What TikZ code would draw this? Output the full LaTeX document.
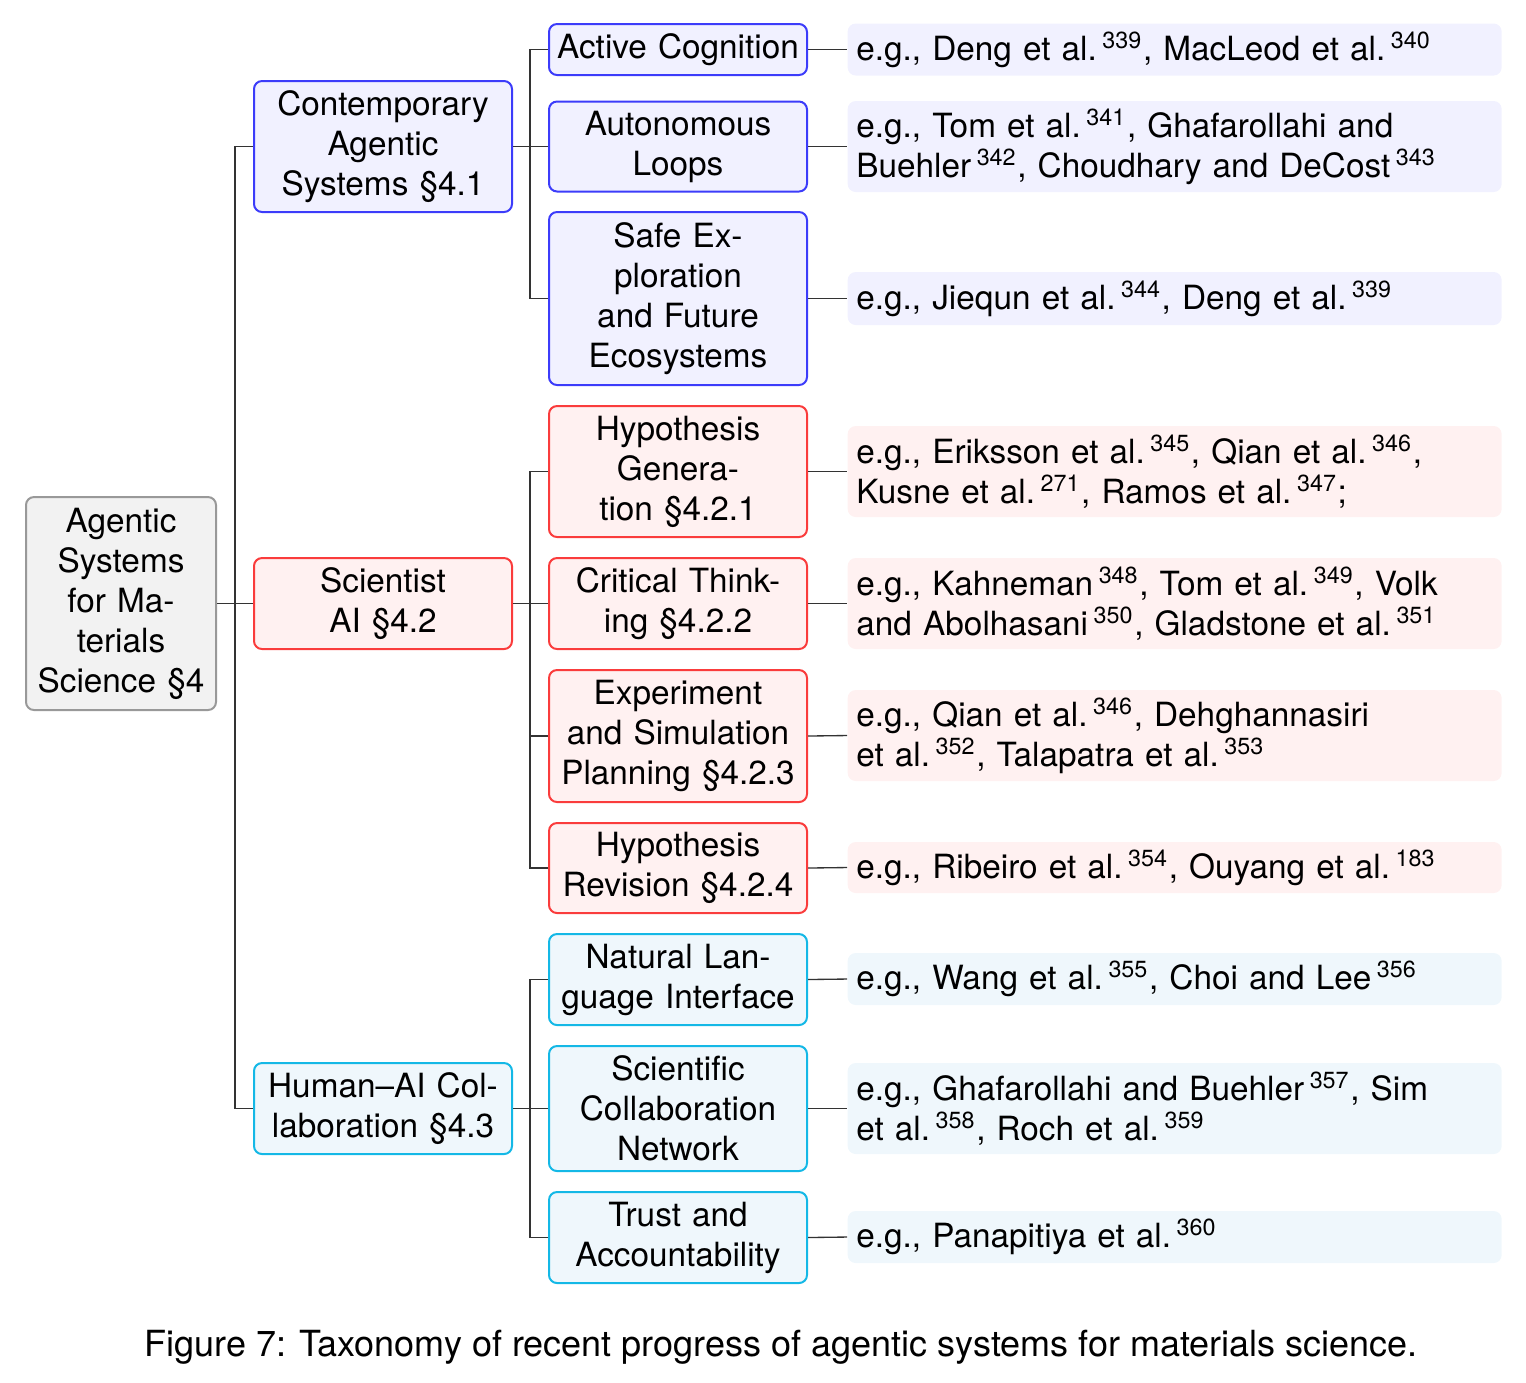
\documentclass[tikz,border=0pt]{standalone}
\usepackage{fontspec}
\setmainfont{TeX Gyre Heros}
\definecolor{bluebd}{RGB}{60,60,250}
\definecolor{bluefl}{RGB}{241,241,255}
\definecolor{redbd}{RGB}{250,60,60}
\definecolor{redfl}{RGB}{255,241,241}
\definecolor{cyanbd}{RGB}{20,184,230}
\definecolor{cyanfl}{RGB}{239,247,252}
\newcommand{\cit}[1]{\,\textsuperscript{#1}}
\begin{document}
\begin{tikzpicture}[x=0.3pt,y=-0.3pt,
  every node/.style={font=\fontsize{10}{12}\selectfont, inner ysep=0pt},
  rootbox/.style={draw=black!40, fill=black!5, rounded corners=2.4pt, line width=0.6pt, align=center, text width=53pt, inner xsep=2pt},
  catbox/.style={rounded corners=2.4pt, line width=0.6pt, align=center, text width=73.4pt, inner xsep=2pt},
  leafbox/.style={rounded corners=2.4pt, align=left, text width=191pt, inner xsep=2.6pt, anchor=west},
  bb/.style={catbox, draw=bluebd, fill=bluefl},
  rb/.style={catbox, draw=redbd, fill=redfl},
  cb/.style={catbox, draw=cyanbd, fill=cyanfl},
  bl/.style={leafbox, fill=bluefl},
  rl/.style={leafbox, fill=redfl},
  cl/.style={leafbox, fill=cyanfl},
  conn/.style={draw=black!80, line width=0.4pt}
]
\useasboundingbox (0,0) rectangle (1526,1382);

% root
\node[rootbox, minimum height=63.9pt] (root) at (121,603.5) {Agentic\\Systems\\for Ma-\\terials\\Science §4};

% level 1
\node[bb, minimum height=39.3pt] (c1) at (383,146.5) {Contemporary\\Agentic\\Systems §4.1};
\node[rb, minimum height=27.3pt] (c2) at (383,603.5) {Scientist\\AI §4.2};
\node[cb, minimum height=27.3pt] (c3) at (383,1108.5) {Human–AI Col-\\laboration §4.3};

% level 2
\node[bb, minimum height=15.3pt] (a1) at (678,49.5) {Active Cognition};
\node[bb, minimum height=27pt] (a2) at (678,146.5) {Autonomous\\Loops};
\node[bb, minimum height=51.9pt] (a3) at (678,298.5) {Safe Ex-\\ploration\\and Future\\Ecosystems};
\node[rb, minimum height=39.3pt] (b1) at (678,471.5) {Hypothesis\\Genera-\\tion §4.2.1};
\node[rb, minimum height=27.3pt] (b2) at (678,603.5) {Critical Think-\\ing §4.2.2};
\node[rb, minimum height=39.6pt] (b3) at (678,736) {Experiment\\and Simulation\\Planning §4.2.3};
\node[rb, minimum height=27pt] (b4) at (678,868) {Hypothesis\\Revision §4.2.4};
\node[cb, minimum height=27.3pt] (d1) at (678,979.5) {Natural Lan-\\guage Interface};
\node[cb, minimum height=37.5pt] (d2) at (678,1108.5) {Scientific\\Collaboration\\Network};
\node[cb, minimum height=27.3pt] (d3) at (678,1237.5) {Trust and\\Accountability};

% leaves
\node[bl, minimum height=15.6pt] (la1) at (847,49.5) {e.g., Deng et al.\cit{339}, MacLeod et al.\cit{340}};
\node[bl, minimum height=27.3pt] (la2) at (847,146.5) {e.g., Tom et al.\cit{341}, Ghafarollahi and\\Buehler\cit{342}, Choudhary and DeCost\cit{343}};
\node[bl, minimum height=15.9pt] (la3) at (847,298.5) {e.g., Jiequn et al.\cit{344}, Deng et al.\cit{339}};
\node[rl, minimum height=27.3pt] (lb1) at (847,471.5) {e.g., Eriksson et al.\cit{345}, Qian et al.\cit{346},\\Kusne et al.\cit{271}, Ramos et al.\cit{347};};
\node[rl, minimum height=27.3pt] (lb2) at (847,603.5) {e.g., Kahneman\cit{348}, Tom et al.\cit{349}, Volk\\and Abolhasani\cit{350}, Gladstone et al.\cit{351}};
\node[rl, minimum height=27.3pt] (lb3) at (847,735.5) {e.g., Qian et al.\cit{346}, Dehghannasiri\\et al.\cit{352}, Talapatra et al.\cit{353}};
\node[rl, minimum height=15.3pt] (lb4) at (847,867.5) {e.g., Ribeiro et al.\cit{354}, Ouyang et al.\cit{183}};
\node[cl, minimum height=15.6pt] (ld1) at (847,979) {e.g., Wang et al.\cit{355}, Choi and Lee\cit{356}};
\node[cl, minimum height=27.3pt] (ld2) at (847,1108.5) {e.g., Ghafarollahi and Buehler\cit{357}, Sim\\et al.\cit{358}, Roch et al.\cit{359}};
\node[cl, minimum height=15.6pt] (ld3) at (847,1237) {e.g., Panapitiya et al.\cit{360}};

% forks
\coordinate (f0) at (235,603.5);
\coordinate (f1) at (530,146.5);
\coordinate (f2) at (530,603.5);
\coordinate (f3) at (530,1108.5);

\draw[conn] (root.east) -- (f0);
\foreach \c in {c1,c2,c3} \draw[conn] (f0) |- (\c.west);
\draw[conn] (c1.east) -- (f1);
\foreach \c in {a1,a2,a3} \draw[conn] (f1) |- (\c.west);
\draw[conn] (c2.east) -- (f2);
\foreach \c in {b1,b2,b3,b4} \draw[conn] (f2) |- (\c.west);
\draw[conn] (c3.east) -- (f3);
\foreach \c in {d1,d2,d3} \draw[conn] (f3) |- (\c.west);

\foreach \c/\l in {a1/la1,a2/la2,a3/la3,b1/lb1,b2/lb2,b3/lb3,b4/lb4,d1/ld1,d2/ld2,d3/ld3}
  \draw[conn] (\c.east) -- (\l.west);

% caption
\node[font=\fontsize{10.8}{13}\selectfont] (cap) at (781,1347) {Figure 7: Taxonomy of recent progress of agentic systems for materials science.};
\end{tikzpicture}
\end{document}
